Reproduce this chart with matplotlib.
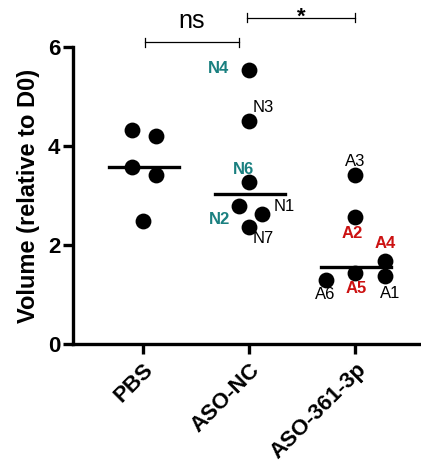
import matplotlib.pyplot as plt
import numpy as np

plt.rcParams['font.family'] = ['Liberation Sans', 'DejaVu Sans']

groups = ["PBS", "ASO-NC", "ASO-361-3p"]

pbs_vals = [4.32, 4.20, 3.58, 3.41, 2.48]
pbs_jitter = [-0.10, 0.12, -0.10, 0.12, 0.0]

nc_names = ["N4", "N3", "N6", "N2", "N1", "N7"]
nc_vals = [5.54, 4.50, 3.27, 2.79, 2.63, 2.36]
nc_jitter = [0.0, 0.0, 0.0, -0.10, 0.12, 0.0]

aso_names = ["A3", "A2", "A4", "A5", "A1", "A6"]
aso_vals = [3.41, 2.57, 1.68, 1.43, 1.37, 1.29]
aso_jitter = [0.0, 0.0, 0.28, 0.0, 0.28, -0.28]

teal = "#1a8080"
red = "#cc1111"
label_style = {
    "N4": (teal, "bold", (-31, 1)),
    "N3": ("black", "normal", (14, 14)),
    "N6": (teal, "bold", (-6, 13)),
    "N2": (teal, "bold", (-19, -14)),
    "N1": ("black", "normal", (22, 7)),
    "N7": ("black", "normal", (14, -11)),
    "A3": ("black", "normal", (0, 14)),
    "A2": (red, "bold", (-3, -17)),
    "A4": (red, "bold", (0, 17)),
    "A5": (red, "bold", (1, -15)),
    "A1": ("black", "normal", (5, -17)),
    "A6": ("black", "normal", (0, -14)),
}

fig = plt.figure(figsize=(4.21, 4.65), dpi=100)
ax = fig.add_axes([73 / 421, 121 / 465, 348 / 421, 297 / 465])

all_vals = [pbs_vals, nc_vals, aso_vals]
all_jit = [pbs_jitter, nc_jitter, aso_jitter]
for i, (vals, jit) in enumerate(zip(all_vals, all_jit)):
    xs = i + np.array(jit)
    ax.scatter(xs, vals, s=130, color="black", zorder=3, linewidths=0)
    med = np.median(vals)
    ax.plot([i - 0.32, i + 0.34], [med, med], color="black", lw=2.4, zorder=2)

for i, names, vals, jit in [(1, nc_names, nc_vals, nc_jitter), (2, aso_names, aso_vals, aso_jitter)]:
    for name, v, j in zip(names, vals, jit):
        col, wt, off = label_style[name]
        ax.annotate(name, (i + j, v), xytext=off, textcoords="offset pixels",
                    ha="center", va="center", fontsize=12, color=col, fontweight=wt)


def bracket(x0, x1, y, text, ty, size, va="center", weight="normal"):
    ax.plot([x0, x1], [y, y], color="black", lw=0.9, clip_on=False)
    for xx in (x0, x1):
        ax.plot([xx, xx], [y - 0.09, y + 0.09], color="black", lw=0.9, clip_on=False)
    ax.text((x0 + x1) / 2, ty, text, ha="center", va=va, fontsize=size,
            fontweight=weight, clip_on=False)


bracket(0.02, 0.90, 6.10, "ns", 6.52, 18)
bracket(0.98, 2.0, 6.59, "*", 6.50, 16, va="baseline", weight="bold")

ax.set_ylim(0, 6)
ax.set_xlim(-0.66, 2.62)
ax.set_yticks([0, 2, 4, 6])
ax.set_xticks(range(len(groups)))
ax.set_xticklabels(groups, rotation=45, ha="right", rotation_mode="anchor",
                   fontsize=16, fontweight="bold")
for lab in ax.get_yticklabels():
    lab.set_fontsize(16)
    lab.set_fontweight("bold")
ax.set_ylabel("Volume (relative to D0)", fontsize=17, fontweight="bold", labelpad=6)

ax.spines["top"].set_visible(False)
ax.spines["right"].set_visible(False)
ax.spines["left"].set_linewidth(2.4)
ax.spines["bottom"].set_linewidth(2.4)
ax.tick_params(width=2.4, length=7, pad=2)
ax.tick_params(axis="x", pad=4)

fig.savefig("out.png", dpi=100)
